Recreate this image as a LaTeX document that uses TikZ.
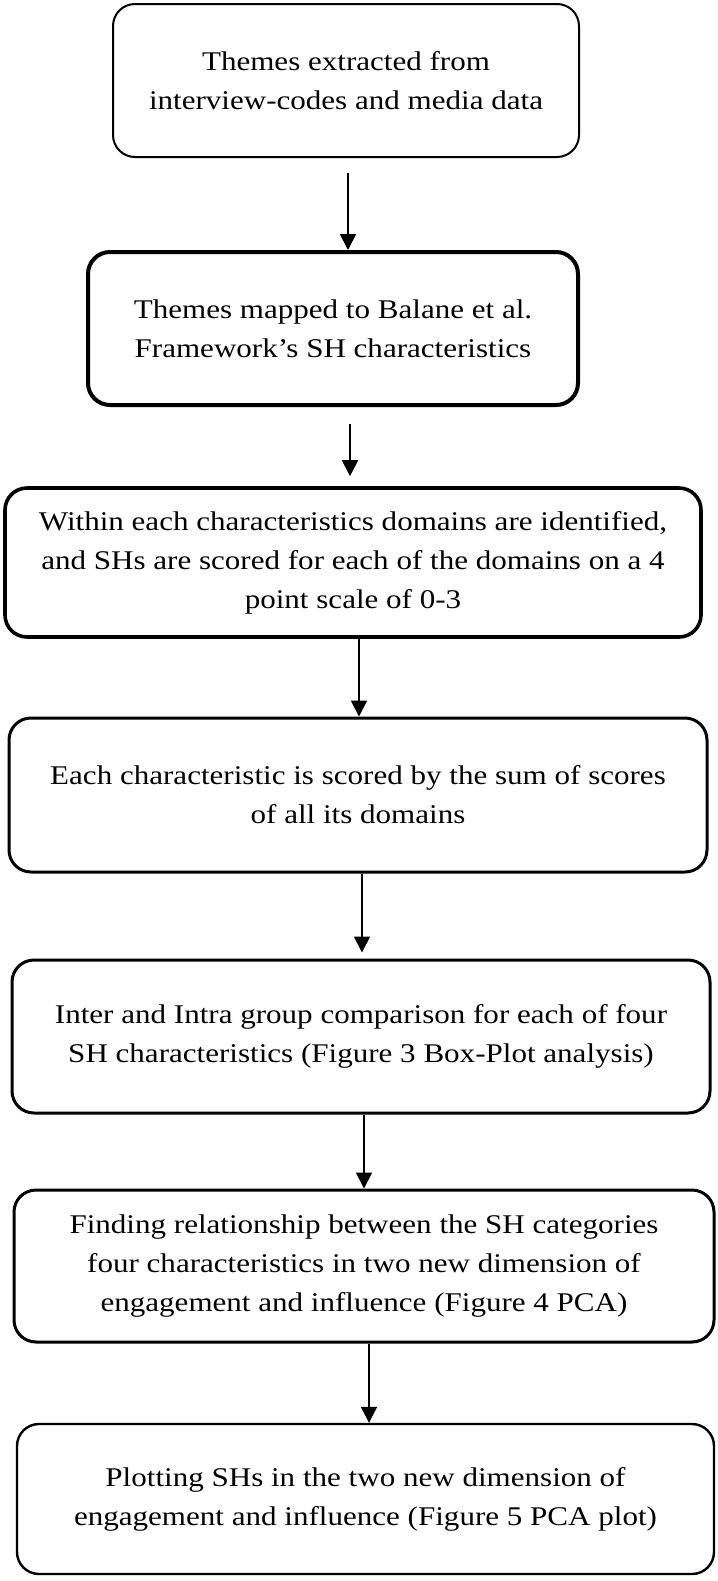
\documentclass[tikz,border=0pt]{standalone}
\usepackage{fontspec}
\setmainfont{Liberation Serif}[FakeStretch=1.15]
\usetikzlibrary{arrows.meta,positioning}
\tikzset{
  flowarrow/.style={-{Triangle[length=8pt,width=8pt]}, line width=0.9pt, draw=black},
  stepbox/.style={draw=black, rounded corners=11pt, fill=white, align=center,
    inner sep=0pt, font=\fontsize{13.5}{19.5}\selectfont},
}

\begin{document}
\begin{tikzpicture}[x=0.5pt,y=-0.5pt]
  \useasboundingbox (0,0) rectangle (718,1581);

  % the seven steps, top to bottom
  \node[stepbox, line width=1pt, minimum width=233pt, minimum height=76.5pt] (themes) at (346,80.5)
    {Themes extracted from\\interview-codes and media data};
  \node[stepbox, line width=2pt, minimum width=245pt, minimum height=76.5pt] (mapped) at (333,328.5)
    {Themes mapped to Balane et al.\\Framework’s SH characteristics};
  \node[stepbox, line width=1.8pt, minimum width=348pt, minimum height=74.5pt] (domains) at (353,562.5)
    {Within each characteristics domains are identified,\\and SHs are scored for each of the domains on a 4\\point scale of 0-3};
  \node[stepbox, line width=1.5pt, minimum width=349pt, minimum height=77pt] (sum) at (358,795)
    {Each characteristic is scored by the sum of scores\\of all its domains};
  \node[stepbox, line width=1.5pt, minimum width=349pt, minimum height=76.5pt] (compare) at (361,1036.5)
    {Inter and Intra group comparison for each of four\\SH characteristics (Figure 3 Box-Plot analysis)};
  \node[stepbox, line width=1.5pt, minimum width=350pt, minimum height=76pt] (relation) at (364,1266)
    {Finding relationship between the SH categories\\four characteristics in two new dimension of\\engagement and influence (Figure 4 PCA)};
  \node[stepbox, line width=1.2pt, minimum width=348.5pt, minimum height=75pt] (plot) at (365.5,1499)
    {Plotting SHs in the two new dimension of\\engagement and influence (Figure 5 PCA plot)};

  % arrows between the steps
  \draw[flowarrow, shorten <=7.5pt] ([xshift=1pt]themes.south) -- ([xshift=7.5pt]mapped.north);
  \draw[flowarrow, shorten <=8.5pt, shorten >=5pt] ([xshift=8.5pt]mapped.south) -- ([xshift=-1.5pt]domains.north);
  \draw[flowarrow] ([xshift=3pt]domains.south) -- ([xshift=0.5pt]sum.north);
  \draw[flowarrow, shorten >=3pt] ([xshift=2pt]sum.south) -- ([xshift=0.5pt]compare.north);
  \draw[flowarrow] ([xshift=1.5pt]compare.south) -- (relation.north);
  \draw[flowarrow] ([xshift=2.5pt]relation.south) -- ([xshift=1.75pt]plot.north);
\end{tikzpicture}
\end{document}
